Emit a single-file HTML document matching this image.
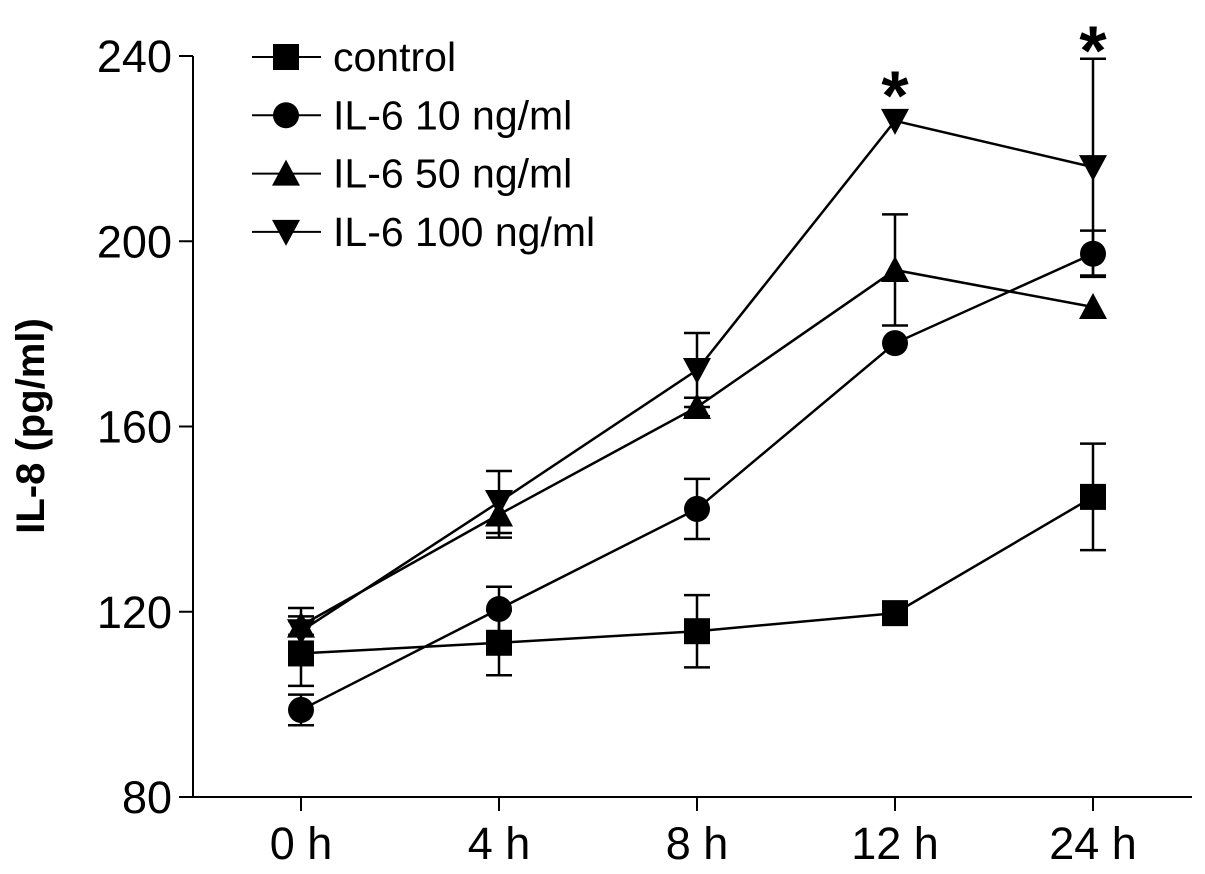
<!DOCTYPE html>
<html><head><meta charset="utf-8"><style>
html,body{margin:0;padding:0;background:#fff;}
svg{display:block;font-family:"Liberation Sans",Arial,sans-serif;}
</style></head><body>
<svg id="chart" width="1205" height="874">
<g id="axes"></g>
<g id="series"></g>
<g id="legend"></g>
<text x="44" y="426" font-size="40" font-weight="bold" text-anchor="middle" transform="rotate(-90 44 426)">IL-8 (pg/ml)</text>
</svg>
<script>
const categories = ["0 h","4 h","8 h","12 h","24 h"];
const yTicks = [80,120,160,200,240];
const seriesNames = ["control","IL-6 10 ng/ml","IL-6 50 ng/ml","IL-6 100 ng/ml"];
const seriesMarkers = ["square","circle","up","down"];
const controlVals = [111,113.3,115.8,119.7,144.8];
const controlErr = [7,7,7.8,1,11.5];
const il10Vals = [98.8,120.6,142.2,178,197.3];
const il10Err = [3.3,4.8,6.5,0,5];
const il50Vals = [117,141,164.2,193.8,185.8];
const il50Err = [2,5,2,12,0];
const il100Vals = [115.8,143.7,172.2,226,216];
const il100Err = [5,6.7,8,0,23.4];
const starCategories = ["12 h","24 h"];
const starValues = [234.9,244.6];
const allVals = [controlVals,il10Vals,il50Vals,il100Vals];
const allErr = [controlErr,il10Err,il50Err,il100Err];

const NS="http://www.w3.org/2000/svg";
const y0=797, yTop=56, vMin=80, vMax=240;
function yScale(v){return y0-(v-vMin)*(y0-yTop)/(vMax-vMin);}
function xScale(i){return 301+i*198;}
function mk(tag,attrs,parent){const e=document.createElementNS(NS,tag);for(const k in attrs)e.setAttribute(k,attrs[k]);parent.appendChild(e);return e;}

const axes=document.getElementById('axes');
let yl=mk('line',{x1:193,y1:yTop,x2:193,y2:y0,stroke:'#000','stroke-width':2},axes);


let xl=mk('line',{x1:193,y1:y0,x2:1192,y2:y0,stroke:'#000','stroke-width':2},axes);


yTicks.forEach(t=>{
  const y=yScale(t);
  mk('line',{x1:179,y1:y,x2:193,y2:y,stroke:'#000','stroke-width':2},axes);
  const tx=mk('text',{x:172,y:y+16,'font-size':45,'text-anchor':'end'},axes);
  tx.textContent=t;
  
  
});
categories.forEach((c,i)=>{
  const x=xScale(i);
  mk('line',{x1:x,y1:y0,x2:x,y2:y0+14,stroke:'#000','stroke-width':2},axes);
  const tx=mk('text',{x:x,y:y0+62,'font-size':45,'text-anchor':'middle'},axes);
  tx.textContent=c;
  
  
});

function marker(type,x,y,parent){
  let e;
  if(type==='square')e=mk('rect',{x:x-13,y:y-13,width:26,height:26,fill:'#000'},parent);
  else if(type==='circle')e=mk('circle',{cx:x,cy:y,r:13,fill:'#000'},parent);
  else if(type==='up')e=mk('polygon',{points:`${x},${y-14} ${x+14},${y+12} ${x-14},${y+12}`,fill:'#000'},parent);
  else e=mk('polygon',{points:`${x},${y+14} ${x+14},${y-12} ${x-14},${y-12}`,fill:'#000'},parent);
  return e;
}

const sg=document.getElementById('series');
allVals.forEach((vals,s)=>{
  const g=mk('g',{},sg);
  
  
  const pts=vals.map((v,i)=>xScale(i)+','+yScale(v)).join(' ');
  mk('polyline',{points:pts,fill:'none',stroke:'#000','stroke-width':2.5},g);
  vals.forEach((v,i)=>{
    const e=allErr[s][i];
    if(e>0){
      const x=xScale(i),yt=yScale(v+e),yb=yScale(v-e);
      mk('line',{x1:x,y1:yt,x2:x,y2:yb,stroke:'#000','stroke-width':2.5},g);
      mk('line',{x1:x-13,y1:yt,x2:x+13,y2:yt,stroke:'#000','stroke-width':2.5},g);
      mk('line',{x1:x-13,y1:yb,x2:x+13,y2:yb,stroke:'#000','stroke-width':2.5},g);
    }
  });
  vals.forEach((v,i)=>{
    const m=marker(seriesMarkers[s],xScale(i),yScale(v),g);
    
    
  });
});
starCategories.forEach((c,k)=>{
  const i=categories.indexOf(c);
  const st=mk('text',{x:xScale(i),y:yScale(starValues[k])+40,'font-size':70,'font-weight':'bold','text-anchor':'middle'},sg);
  st.textContent='*';
  
  
});

const lg=document.getElementById('legend');
seriesNames.forEach((n,s)=>{
  const y=57+s*58.3;
  const g=mk('g',{},lg);
  
  
  mk('line',{x1:252,y1:y,x2:321,y2:y,stroke:'#000','stroke-width':2},g);
  marker(seriesMarkers[s],286,y,g);
  const t=mk('text',{x:333,y:y+14,'font-size':41},g);
  t.textContent=n;
});
</script>
</body></html>
